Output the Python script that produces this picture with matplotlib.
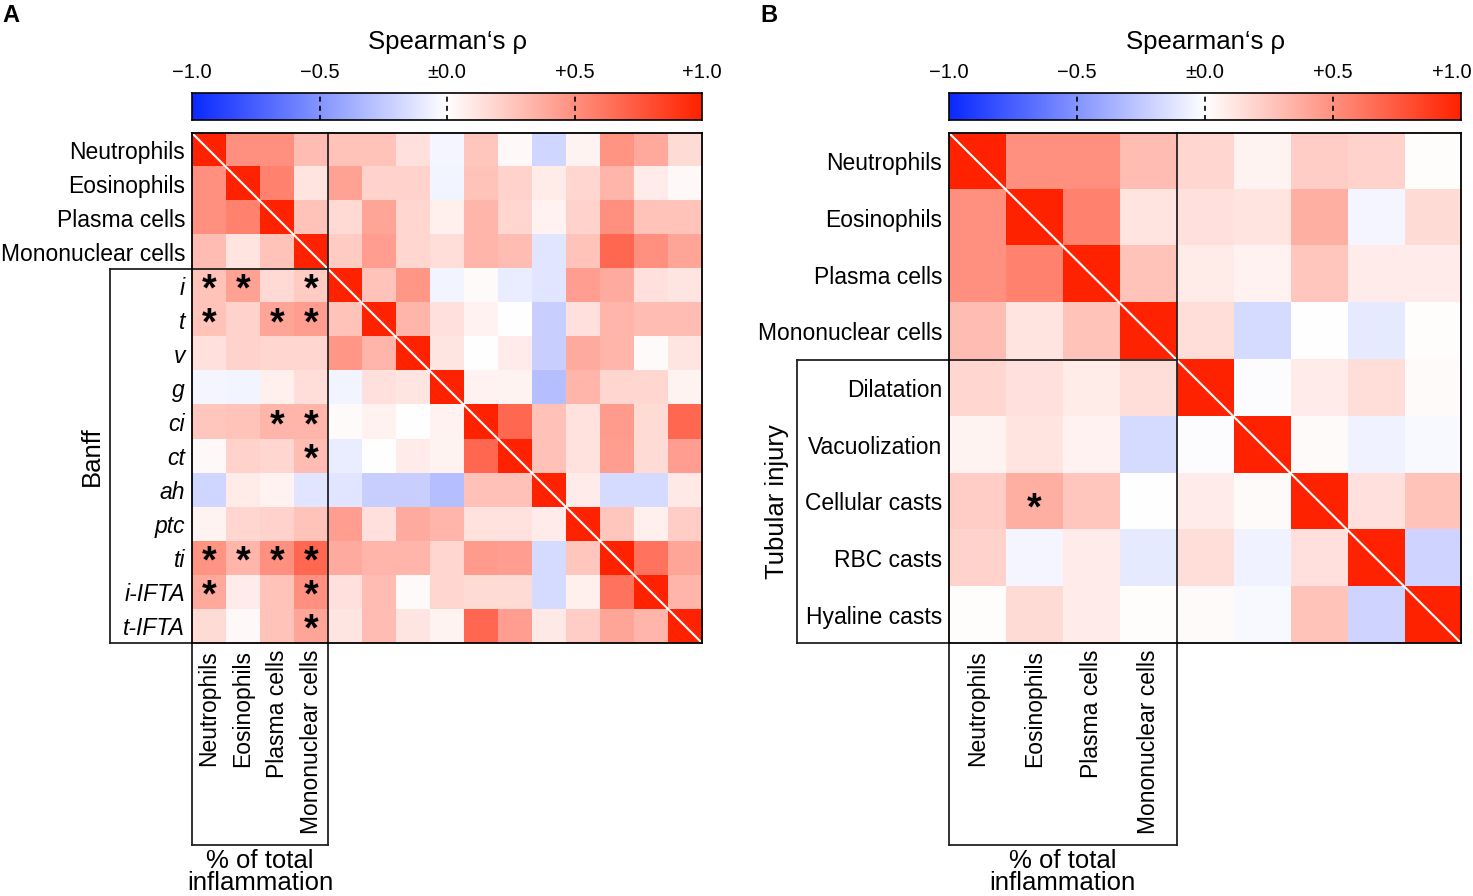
import numpy as np
import matplotlib
matplotlib.use('Agg')
import matplotlib.pyplot as plt
from matplotlib.colors import LinearSegmentedColormap

plt.rcParams['font.family'] = ['Liberation Sans', 'DejaVu Sans']

# panel A: inflammation cell types vs banff scores
cells = ['Neutrophils', 'Eosinophils', 'Plasma cells', 'Mononuclear cells']
banff = ['i', 't', 'v', 'g', 'ci', 'ct', 'ah', 'ptc', 'ti', 'i-IFTA', 't-IFTA']
rho_a = [
    [1, .5, .5, .3, .27, .27, .14, -.04, .25, .03, -.19, .05, .48, .39, .16],
    [.5, 1, .57, .12, .42, .2, .2, -.05, .27, .2, .09, .18, .33, .08, .03],
    [.5, .57, 1, .27, .17, .4, .18, .07, .33, .18, .06, .2, .5, .27, .27],
    [.3, .12, .27, 1, .23, .43, .18, .15, .33, .3, -.12, .27, .68, .5, .4],
    [.27, .42, .17, .23, 1, .27, .47, -.05, .02, -.08, -.12, .43, .38, .14, .11],
    [.27, .2, .4, .43, .27, 1, .33, .14, .06, 0, -.22, .14, .33, .3, .3],
    [.14, .2, .18, .18, .47, .33, 1, .11, 0, .08, -.22, .38, .33, .02, .11],
    [-.04, -.05, .07, .15, -.05, .14, .11, 1, .06, .05, -.3, .33, .18, .18, .05],
    [.25, .27, .33, .33, .02, .06, 0, .06, 1, .68, .28, .13, .45, .16, .68],
    [.03, .2, .18, .3, -.08, 0, .08, .05, .68, 1, .28, .13, .43, .16, .43],
    [-.19, .09, .06, -.12, -.12, -.22, -.22, -.3, .28, .28, 1, .08, -.17, -.17, .1],
    [.05, .18, .2, .27, .43, .14, .38, .33, .13, .13, .08, 1, .25, .07, .22],
    [.48, .33, .5, .68, .38, .33, .33, .18, .45, .43, -.17, .25, 1, .63, .4],
    [.39, .08, .27, .5, .14, .3, .02, .18, .16, .16, -.17, .07, .63, 1, .33],
    [.16, .03, .27, .4, .11, .3, .11, .05, .68, .43, .1, .22, .4, .33, 1],
]
# significant cells (row, col)
stars_a = [(4, 0), (4, 1), (4, 3), (5, 0), (5, 2), (5, 3), (8, 2), (8, 3), (9, 3),
           (12, 0), (12, 1), (12, 2), (12, 3), (13, 0), (13, 3), (14, 3)]

# panel B: inflammation cell types vs tubular injury
tubular = ['Dilatation', 'Vacuolization', 'Cellular casts', 'RBC casts', 'Hyaline casts']
rho_b = [
    [1, .5, .5, .3, .18, .05, .22, .2, .01],
    [.5, 1, .57, .12, .14, .12, .36, -.04, .16],
    [.5, .57, 1, .27, .09, .06, .25, .08, .08],
    [.3, .12, .27, 1, .15, -.17, 0, -.1, .01],
    [.18, .14, .09, .15, 1, -.01, .08, .15, .02],
    [.05, .12, .06, -.17, -.01, 1, .02, -.06, -.03],
    [.22, .36, .25, 0, .08, .02, 1, .14, .27],
    [.2, -.04, .08, -.1, .15, -.06, .14, 1, -.2],
    [.01, .16, .08, .01, .02, -.03, .27, -.2, 1],
]
stars_b = [(6, 1)]

cbar_ticks = [-1.0, -0.5, 0.0, 0.5, 1.0]
cbar_labels = ['\u22121.0', '\u22120.5', '\u00b10.0', '+0.5', '+1.0']

cmap = LinearSegmentedColormap.from_list('rho', ['#0a2aff', '#ffffff', '#ff2200'])
W, H = 1473, 896


def px(x0, y0, x1, y1):
    # pixel box -> figure fraction rect
    return [x0 / W, 1 - y1 / H, (x1 - x0) / W, (y1 - y0) / H]


def colorbar(fig, x0, x1, y0, y1, fit_right=False):
    cax = fig.add_axes(px(x0, y0, x1, y1))
    grad = np.linspace(-1, 1, 256).reshape(1, -1)
    cax.imshow(grad, cmap=cmap, vmin=-1, vmax=1, aspect='auto', extent=(-1, 1, 0, 1))
    for t in [-0.5, 0, 0.5]:
        cax.plot([t, t], [0, 1], color='black', lw=1.2, ls=(0, (3, 2.5)))
    cax.set_xlim(-1, 1)
    cax.set_ylim(0, 1)
    cax.set_xticks([])
    cax.set_yticks([])
    for s in cax.spines.values():
        s.set_linewidth(1.2)
    # tick labels above the bar
    for t, lab in zip(cbar_ticks, cbar_labels):
        x = x0 + (t + 1) / 2 * (x1 - x0)
        ha = 'center'
        if fit_right and t == 1.0:
            # keep the +1.0 label inside the figure
            x, ha = W - 1, 'right'
        fig.text(x / W, 1 - 73 / H, lab, ha=ha, va='center', fontsize=14.5)
    fig.text((x0 + x1) / 2 / W, 1 - 42 / H, 'Spearman\u2018s \u03c1', ha='center', va='center', fontsize=18.5)


def panel(fig, rect, rho, names, group, stars, box_left, group_x, italic):
    data = np.array(rho)
    n = len(data)
    ax = fig.add_axes(rect)
    ax.imshow(data, cmap=cmap, vmin=-1, vmax=1, extent=(0, n, n, 0), aspect='auto')
    # white diagonal
    ax.plot([0, n], [0, n], color='white', lw=1.5)
    ax.set_xlim(0, n)
    ax.set_ylim(n, 0)
    ax.set_yticks(np.arange(n) + 0.5)
    ax.set_yticklabels(cells + names, fontsize=16.5)
    if italic:
        for lab in ax.get_yticklabels()[4:]:
            lab.set_fontstyle('italic')
    ax.set_xticks(np.arange(4) + 0.5)
    ax.set_xticklabels(cells, rotation=90, fontsize=16.5)
    ax.tick_params(length=0, pad=5)
    for s in ax.spines.values():
        s.set_linewidth(1.3)
    for r, c in stars:
        ax.text(c + 0.5, r + 0.64, '*', ha='center', va='center', fontsize=27, fontweight='bold')

    # boxes around groups
    cell_px = rect[3] * H / n
    bottom = n + (845 - 643) / cell_px
    kw = dict(color='#222222', lw=1.3, clip_on=False)
    ax.plot([4, 4], [0, bottom], **kw)
    ax.plot([box_left, 4], [4, 4], **kw)
    ax.plot([box_left, box_left], [4, n], **kw)
    ax.plot([box_left, 0], [n, n], **kw)
    ax.plot([0, 0], [n, bottom], **kw)
    ax.plot([0, 4], [bottom, bottom], **kw)
    ax.text(group_x, (4 + n) / 2, group, rotation=90, ha='center', va='center', fontsize=18.5)
    ax.text(2, bottom + 4 / cell_px, '% of total\ninflammation', ha='center', va='top',
            fontsize=18.5, linespacing=0.92)
    return ax


fig = plt.figure(figsize=(W / 100, H / 100), dpi=100)

panel(fig, px(192, 133, 702, 643), rho_a, banff, 'Banff', stars_a, -82 / 34, -2.94, True)
colorbar(fig, 192, 702, 93, 120)

panel(fig, px(949, 133, 1461, 643), rho_b, tubular, 'Tubular injury', stars_b,
      -152 / (512 / 9), -3.02, False)
colorbar(fig, 949, 1461, 93, 120, fit_right=True)

fig.text(2 / W, 1 - 16 / H, 'A', fontsize=17, fontweight='bold', va='center')
fig.text(760 / W, 1 - 16 / H, 'B', fontsize=17, fontweight='bold', va='center')

fig.savefig('out.png', dpi=100)
